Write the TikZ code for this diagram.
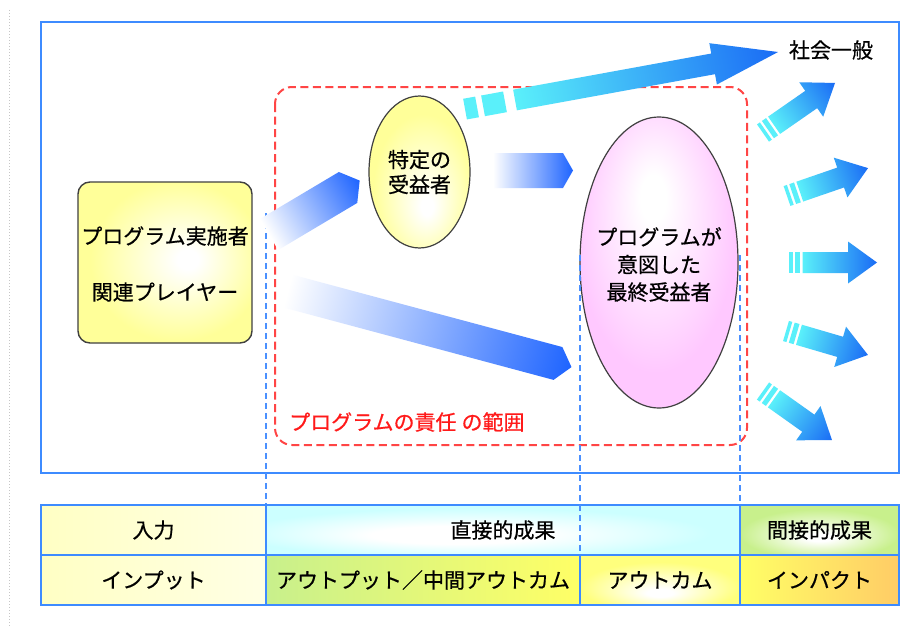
\documentclass[tikz,border=0pt]{standalone}
\usepackage{fontspec}
\setmainfont[FakeBold=0.6]{Noto Sans CJK JP}
\usetikzlibrary{shapes.geometric}
\definecolor{frameblue}{HTML}{3D8BFF}
\definecolor{dashblue}{HTML}{4A90FF}
\definecolor{dashred}{HTML}{FF4545}
\definecolor{txtred}{HTML}{FF1A1A}
\definecolor{arrblue}{HTML}{1E64FF}
\definecolor{arrcyan}{HTML}{5AF0FA}
\definecolor{arrdeep}{HTML}{1A6BF5}
\definecolor{ylw}{HTML}{FFFF99}
\definecolor{pnk}{HTML}{FFC8FF}
\definecolor{lylw}{HTML}{FFFFC4}
\definecolor{lcyan}{HTML}{CCFFFF}
\definecolor{lgreen}{HTML}{C8F08C}
\definecolor{brylw}{HTML}{FFFF66}
\definecolor{orng}{HTML}{FFCC66}
\definecolor{boxgray}{HTML}{404040}
\pgfdeclareradialshading{boxshade}{\pgfpoint{7bp}{1bp}}{color(0bp)=(white);color(3bp)=(white);color(25bp)=(ylw);color(50bp)=(ylw)}
\pgfdeclareradialshading{specshade}{\pgfpoint{4bp}{-12bp}}{color(0bp)=(white);color(3bp)=(white);color(25bp)=(ylw);color(50bp)=(ylw)}
\pgfdeclareradialshading{pinkshade}{\pgfpoint{-2bp}{12bp}}{color(0bp)=(white);color(4bp)=(white);color(25bp)=(pnk);color(50bp)=(pnk)}
\pgfdeclareradialshading{greenshade}{\pgfpoint{0bp}{-8bp}}{color(0bp)=(white);color(4bp)=(white);color(25bp)=(lgreen);color(50bp)=(lgreen)}
\pgfdeclareradialshading{outcomeshade}{\pgfpoint{0bp}{-14bp}}{color(0bp)=(white);color(4bp)=(white);color(25bp)=(brylw!85!white);color(50bp)=(brylw!85!white)}
\pgfdeclareradialshading{directshade}{\pgfpoint{-6bp}{-6bp}}{color(0bp)=(white);color(9bp)=(white);color(25bp)=(lcyan);color(50bp)=(lcyan)}
\newcommand\jfs[2]{\fontsize{#1}{#2}\selectfont}
% pentagon arrow: tail x, tail y, angle, body length, tip length, width
\newcommand\pentarrow[6]{%
  \begin{scope}[transform canvas={shift={(#1,#2)},rotate=#3}]
    \shade[left color=white,right color=arrblue] (0,-#6/2) -- (#4,-#6/2) -- (#5,0) -- (#4,#6/2) -- (0,#6/2) -- cycle;
  \end{scope}}
% cyan block arrow: tail x, tail y, angle, length, body width, head length, head width, body start
\newcommand\cyanarrow[8]{%
  \begin{scope}[transform canvas={shift={(#1,#2)},rotate=#3}]
    \shade[left color=arrcyan,right color=arrdeep] (#8,-#5/2) -- ({#4-#6},-#5/2) -- ({#4-#6},-#7/2) -- (#4,0) -- ({#4-#6},#7/2) -- ({#4-#6},#5/2) -- (#8,#5/2) -- cycle;
  \end{scope}}
\newcommand\stripearrow[4]{%
  \begin{scope}[transform canvas={shift={(#1,#2)},rotate=#3}]
    \fill[arrcyan] (0,-10.5) rectangle (3.5,10.5);
    \fill[arrcyan] (6,-10.5) rectangle (11,10.5);
    \shade[left color=arrcyan,right color=arrdeep] (13.5,-10.5) -- ({#4-29},-10.5) -- ({#4-29},-21) -- (#4,0) -- ({#4-29},21) -- ({#4-29},10.5) -- (13.5,10.5) -- cycle;
  \end{scope}}
\begin{document}
\begin{tikzpicture}[x=1pt,y=-1pt,
  txt/.style={inner sep=0pt, font=\jfs{21}{25}},
  cell/.style={draw=frameblue, line width=1.8pt, inner sep=0pt, minimum height=50pt, font=\jfs{21}{25}},
  bluedash/.style={draw=dashblue, line width=2pt, dash pattern=on 6pt off 4pt},
  reddash/.style={draw=dashred, line width=2pt, dash pattern=on 8pt off 4.5pt},
  ell/.style={ellipse, draw=boxgray, line width=1.2pt, inner sep=0pt, align=center, shade}
]
\path[use as bounding box, fill=white] (0,0) rectangle (918,626);
% left gray dotted rule
\draw[gray!45, line width=1pt, dotted] (9,10) -- (9,626);
% frame
\draw[frameblue, line width=2pt] (41,22) rectangle (899,473);
% responsibility area
\draw[reddash, rounded corners=17pt] (275,87) rectangle (747,445);
\node[anchor=west, inner sep=0pt, text=txtred, font=\jfs{21}{25}] (resp) at (289,422) {プログラムの責任\hspace{5pt}の範囲};
% blue dashed guides
\draw[bluedash] (266,213) -- (266,505);
\draw[bluedash] (740,255) -- (740,505);
% arrows from implementer
\pentarrow{269}{234.5}{30.75}{92}{105.5}{36}
\pentarrow{287.5}{291}{-15}{280}{294}{34}
\pentarrow{493}{170.5}{0}{70}{80}{35}
% big arrow to society
\begin{scope}[transform canvas={shift={(515,100)},rotate=10.34}]
  \fill[arrcyan] (-50.8,-10.5) rectangle (-38.6,10.5);
  \fill[arrcyan] (-32.5,-10.5) rectangle (-10.2,10.5);
\end{scope}
\cyanarrow{515}{100}{10.34}{267.4}{21}{66}{42}{0}
% small striped arrows
\stripearrow{763}{133}{34.8}{87.7}
\stripearrow{787}{196}{19}{85.7}
\stripearrow{789}{262.5}{0}{88}
\stripearrow{786}{331}{-16.3}{85.4}
\stripearrow{763}{391}{-35.4}{84.6}
% nodes
\node[draw=boxgray, line width=1.4pt, rounded corners=12pt, minimum width=174pt, minimum height=161pt, shade, shading=boxshade] (impl) at (165,262.5) {};
\node[txt] (implA) at (165,236) {プログラム実施者};
\node[txt] (implB) at (165,292) {関連プレイヤー};
\node[ell, shading=specshade, minimum width=101pt, minimum height=152pt, font=\jfs{21}{25}] (spec) at (419.5,172) {特定の\\受益者};
\node[ell, shading=pinkshade, minimum width=158pt, minimum height=291pt, font=\jfs{21}{27.5}] (final) at (659,262.5) {};
\node[txt, align=center, font=\jfs{21}{27.5}] (finalT) at (659,264.5) {プログラムが\\意図した\\最終受益者};
\node[txt] (society) at (831,50) {社会一般};
% table
\node[cell, minimum width=225pt, left color=lylw, right color=lylw!45!white] (c11) at (153.5,530) {入力};
\node[cell, minimum width=474pt, shade, shading=directshade] (c12) at (503,530) {直接的成果};
\node[cell, minimum width=159pt, shade, shading=greenshade] (c13) at (819.5,530) {間接的成果};
\node[cell, minimum width=225pt, left color=lylw, right color=lylw!45!white] (c21) at (153.5,580) {インプット};
\node[cell, minimum width=314pt, left color=lgreen, right color=brylw] (c22) at (423,580) {アウトプット／中間アウトカム};
\node[cell, minimum width=160pt, shade, shading=outcomeshade] (c23) at (660,580) {アウトカム};
\node[cell, minimum width=159pt, left color=brylw, right color=orng] (c24) at (819.5,580) {インパクト};
\draw[bluedash] (580,255) -- (580,555);
\end{tikzpicture}
\end{document}
